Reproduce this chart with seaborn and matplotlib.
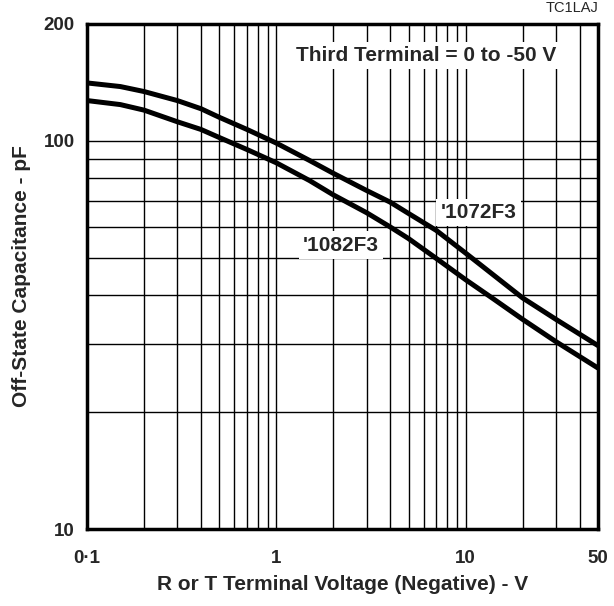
import pandas as pd
import matplotlib
matplotlib.use("Agg")
import matplotlib.pyplot as plt
import seaborn as sns
from matplotlib.ticker import FixedLocator, NullFormatter, NullLocator

# Data
volts_1072 = [0.1, 0.15, 0.2, 0.3, 0.4, 0.5, 0.7, 1, 1.5, 2, 3, 4, 5, 7, 10, 15, 20, 30, 50]
cap_1072 = [141, 138, 134, 127, 121, 115, 107, 98.7, 89, 82.5, 74.5, 69.5, 65, 58.8, 51.4, 44, 39.4, 34.7, 29.7]
volts_1082 = [0.1, 0.15, 0.2, 0.3, 0.4, 0.5, 0.7, 1, 1.5, 2, 3, 4, 5, 7, 10, 14, 20, 30, 50]
cap_1082 = [127, 124, 120, 112, 107, 102, 95, 87.8, 79, 72.6, 65.3, 60.0, 56, 49.8, 43.9, 39.2, 34.7, 30.4, 26.0]

x_ticks = [0.1, 1, 10, 50]
x_tick_labels = ["0\u00b71", "1", "10", "50"]
y_ticks = [10, 100, 200]
y_tick_labels = ["10", "100", "200"]
x_grid = [0.2, 0.3, 0.4, 0.5, 0.6, 0.7, 0.8, 0.9, 1,
          2, 3, 4, 5, 6, 7, 8, 9, 10, 20, 30, 40]
y_grid = [20, 30, 40, 50, 60, 70, 80, 90, 100]

df = pd.concat([
    pd.DataFrame({"V": volts_1072, "C": cap_1072, "part": "'1072F3"}),
    pd.DataFrame({"V": volts_1082, "C": cap_1082, "part": "'1082F3"}),
])

sns.set_style("white")
plt.rcParams["font.family"] = ["Liberation Sans", "DejaVu Sans"]

fig = plt.figure(figsize=(6.14, 6.06), dpi=100)
ax = fig.add_axes([0.1417, 0.127, 0.832, 0.8334])

ax.set_xscale("log")
ax.set_yscale("log")
ax.set_xlim(0.1, 50)
ax.set_ylim(10, 200)

# grid lines
for v in x_grid:
    ax.axvline(v, color="black", lw=1.0, zorder=1)
for c in y_grid:
    ax.axhline(c, color="black", lw=1.0, zorder=1)

sns.lineplot(data=df, x="V", y="C", hue="part", units="part", estimator=None,
             palette=["black", "black"], linewidth=3.6, legend=False,
             ax=ax, zorder=3)

ax.xaxis.set_major_locator(FixedLocator(x_ticks))
ax.set_xticklabels(x_tick_labels)
ax.xaxis.set_minor_locator(NullLocator())
ax.xaxis.set_minor_formatter(NullFormatter())
ax.yaxis.set_major_locator(FixedLocator(y_ticks))
ax.set_yticklabels(y_tick_labels)
ax.yaxis.set_minor_locator(NullLocator())
ax.yaxis.set_minor_formatter(NullFormatter())
ax.tick_params(axis="x", length=0, labelsize=13.5, pad=15)
ax.tick_params(axis="y", length=0, labelsize=13.5, pad=9)
for lbl in ax.get_xticklabels() + ax.get_yticklabels():
    lbl.set_fontweight("bold")

for s in ax.spines.values():
    s.set_color("black")
    s.set_linewidth(2.5)
    s.set_zorder(5)

ax.set_xlabel("R or T Terminal Voltage (Negative) - V", fontsize=15,
              fontweight="bold", labelpad=6)
ax.set_ylabel("Off-State Capacitance - pF", fontsize=15,
              fontweight="bold", labelpad=9)

box = dict(facecolor="white", edgecolor="none", pad=3)
ax.text(6.2, 166, "Third Terminal = 0 to -50 V", fontsize=15, fontweight="bold",
        ha="center", va="center", bbox=box, zorder=2)
ax.text(11.7, 65.3, "'1072F3", fontsize=15, fontweight="bold",
        ha="center", va="center", bbox=box, zorder=2)
ax.text(2.2, 53.9, "'1082F3", fontsize=15, fontweight="bold",
        ha="center", va="center", bbox=box, zorder=2)

fig.text(0.974, 0.975, "TC1LAJ", fontsize=10.5, ha="right", va="bottom")

fig.savefig("out.png", dpi=100)
